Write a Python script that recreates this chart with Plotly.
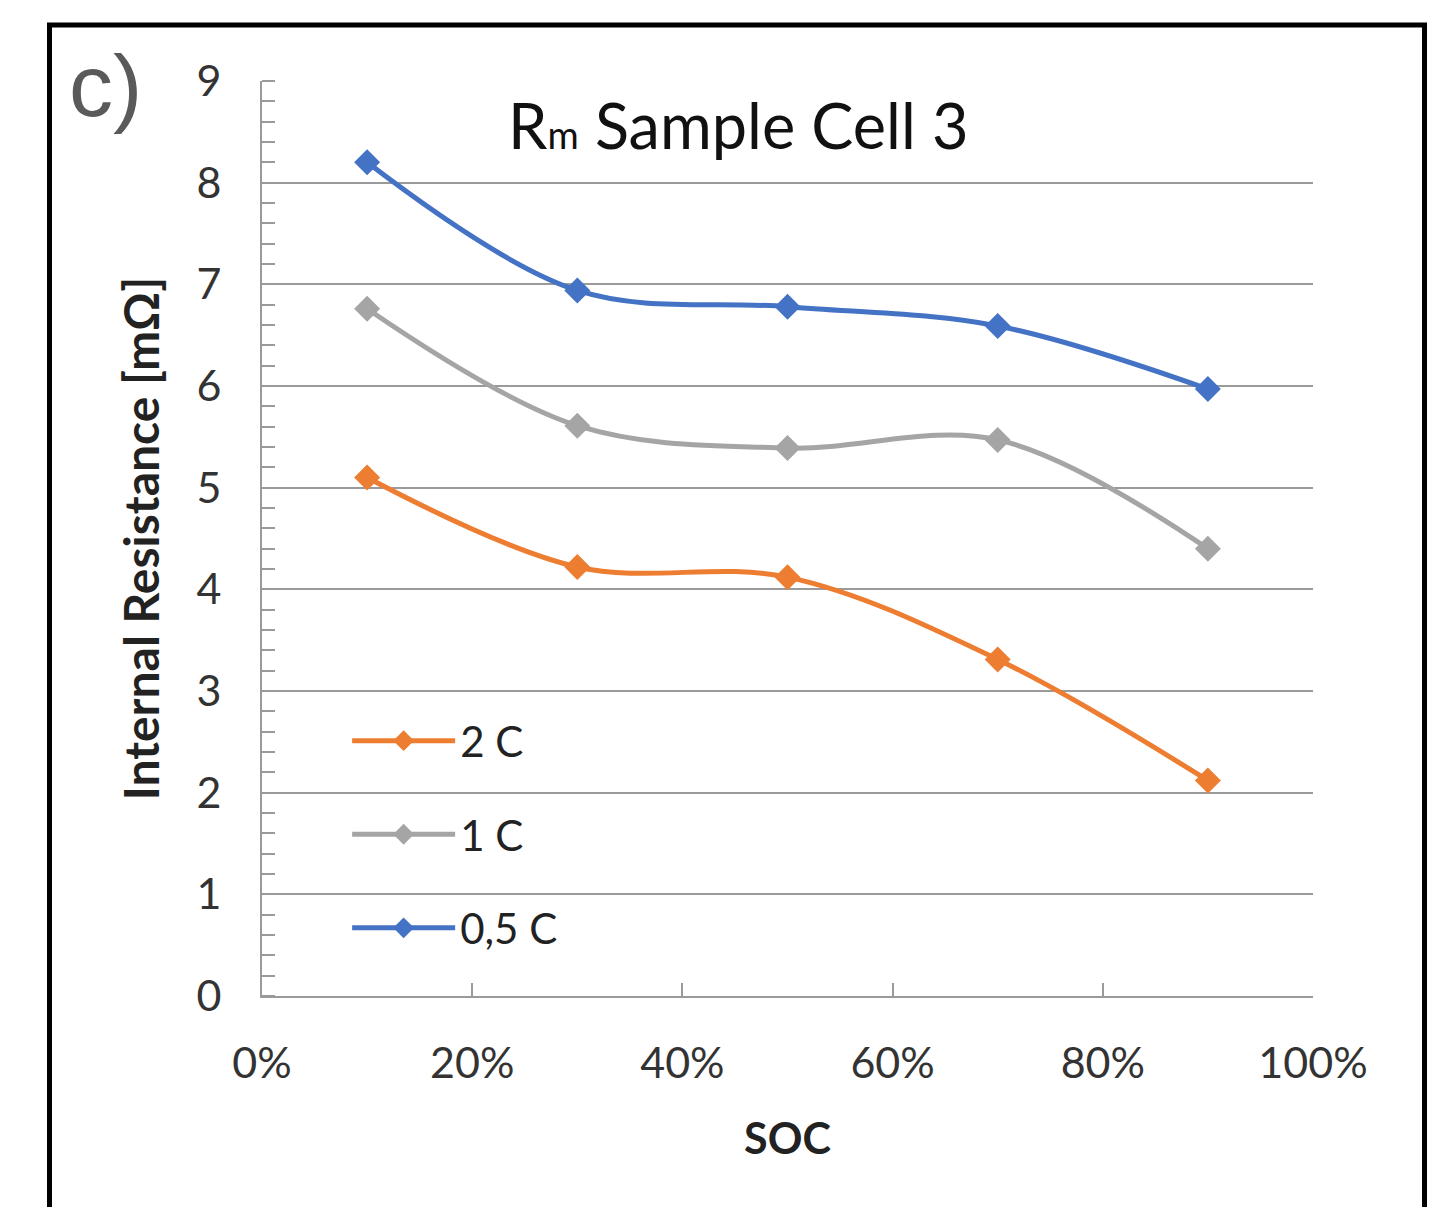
import plotly.graph_objects as go

soc = [0.1, 0.3, 0.5, 0.7, 0.9]
r_2c = [5.10, 4.22, 4.12, 3.31, 2.12]
r_1c = [6.76, 5.61, 5.39, 5.47, 4.40]
r_05c = [8.20, 6.94, 6.78, 6.59, 5.97]
series_names = ["2 C", "1 C", "0,5 C"]
series_colors = ["#ED7D31", "#A5A5A5", "#4472C4"]
x_ticks = [0, 0.2, 0.4, 0.6, 0.8, 1.0]
y_ticks = [0, 1, 2, 3, 4, 5, 6, 7, 8, 9]

FONT = "Lato"
fig = go.Figure()
for name, vals, col in zip(series_names, [r_2c, r_1c, r_05c], series_colors):
    fig.add_trace(go.Scatter(
        x=soc, y=vals, name=name, mode="lines+markers",
        line=dict(color=col, width=5, shape="spline", smoothing=1.0),
        marker=dict(symbol="diamond", size=20, color=col),
        legendgroup=name,
    ))

axis_gray = "#9a9a9a"
fig.update_layout(
    width=1452, height=1207,
    margin=dict(l=262, r=139, t=81, b=211),
    paper_bgcolor="white", plot_bgcolor="white",
    font=dict(family=FONT, color="#333333", size=40),
    showlegend=True,
    legend=dict(x=0.081, y=0.316, xanchor="left", yanchor="top",
                bgcolor="rgba(0,0,0,0)", font=dict(size=42, color="#222222"),
                tracegroupgap=36, itemwidth=103, traceorder="grouped"),
    xaxis=dict(range=[0, 1], tickvals=x_ticks, tickformat=".0%",
               ticks="inside", ticklen=13, tickwidth=2, tickcolor=axis_gray,
               showline=True, linecolor=axis_gray, linewidth=2,
               showgrid=False, zeroline=False,
               tickfont=dict(size=43, color="#333333"), ticklabelstandoff=28,
               title=dict(text="<b>SOC</b>", font=dict(size=43, color="#222222"), standoff=38)),
    yaxis=dict(range=[0, 9], tickvals=y_ticks,
               ticks="", showline=True, linecolor=axis_gray, linewidth=2,
               showgrid=True, gridcolor=axis_gray, gridwidth=2, zeroline=False,
               minor=dict(ticks="inside", ticklen=13, tickwidth=2, tickcolor=axis_gray,
                          dtick=0.2, showgrid=False),
               tickfont=dict(size=43, color="#333333"), ticklabelstandoff=30,
               title=dict(text="<b>Internal Resistance [mΩ]</b>", font=dict(size=48, color="#222222"), standoff=22)),
)

fig.add_annotation(xref="paper", yref="paper", x=0.453, y=0.952,
                   xanchor="center", yanchor="middle", showarrow=False,
                   text='R<span style="font-size:38px">m</span> Sample Cell 3',
                   font=dict(size=63, color="#111111", family=FONT))
fig.add_annotation(xref="paper", yref="paper", x=-0.186, y=0.995,
                   xanchor="left", yanchor="middle", showarrow=False,
                   text="c)", font=dict(size=88, color="#5a5a5a", family="Liberation Sans"))
fig.add_shape(type="rect", xref="paper", yref="paper",
              x0=(49.5 - 262) / 1051, x1=(1424.5 - 262) / 1051,
              y0=-0.4, y1=(996 - 25) / 915,
              line=dict(color="black", width=5), layer="above")

fig.write_html("out.html")
